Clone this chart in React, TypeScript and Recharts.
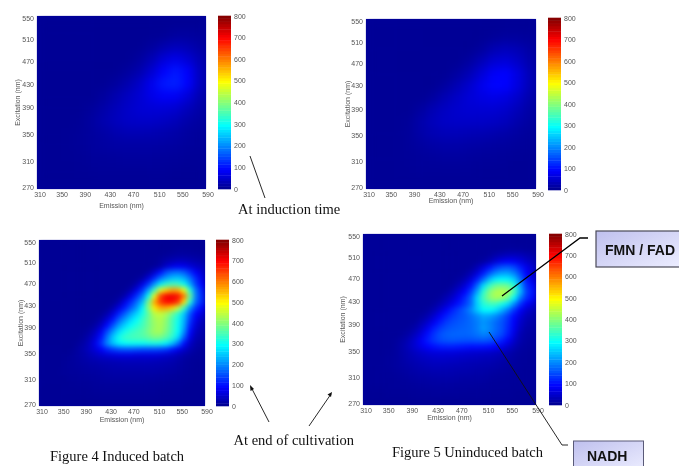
import { CartesianGrid, Scatter, ScatterChart, XAxis, YAxis } from 'recharts';

const emissionTicks = [310, 350, 390, 430, 470, 510, 550, 590];
const excitationTicks = [270, 310, 350, 390, 430, 470, 510, 550];
const intensityTicks = [0, 100, 200, 300, 400, 500, 600, 700, 800];
// labels in the figure sit a little off their true positions
const excitationNudge = [-2, -3, -5, -7, -6, -4, -1, 2];
const emissionNudge = [3, 1, 0, 1, 0, 2, 1, 2];

const em20 = [320, 340, 360, 380, 400, 420, 440, 460, 480, 500, 520, 540, 560, 580];
const ex20 = [540, 520, 500, 480, 460, 440, 420, 400, 380, 360, 340, 320, 300, 280];
const em10 = [315, 325, 335, 345, 355, 365, 375, 385, 395, 405, 415, 425, 435, 445, 455, 465, 475, 485, 495, 505, 515, 525, 535, 545, 555, 565, 575, 585];
const ex10 = [545, 535, 525, 515, 505, 495, 485, 475, 465, 455, 445, 435, 425, 415, 405, 395, 385, 375, 365, 355, 345, 335, 325, 315, 305, 295, 285, 275];

const scaleLevels = [6, 19, 31, 44, 56, 69, 81, 94, 106, 119, 131, 144, 156, 169, 181, 194, 206, 219, 231, 244, 256, 269, 281, 294, 306, 319, 331, 344, 356, 369, 381, 394, 406, 419, 431, 444, 456, 469, 481, 494, 506, 519, 531, 544, 556, 569, 581, 594, 606, 619, 631, 644, 656, 669, 681, 694, 706, 719, 731, 744, 756, 769, 781, 794];

const inducedStart = [
  [5, 5, 5, 5, 5, 5, 5, 5, 5, 5, 5, 5, 5, 5],
  [5, 5, 5, 5, 5, 5, 5, 5, 5, 5, 6, 12, 12, 10],
  [5, 5, 5, 5, 5, 5, 5, 5, 5, 12, 25, 35, 30, 18],
  [5, 5, 5, 5, 5, 5, 5, 5, 12, 30, 58, 72, 55, 30],
  [5, 5, 5, 5, 5, 5, 5, 12, 25, 52, 88, 108, 88, 38],
  [5, 5, 5, 5, 5, 5, 12, 25, 45, 75, 108, 115, 90, 38],
  [5, 5, 5, 5, 5, 12, 25, 40, 54, 72, 84, 82, 60, 28],
  [5, 5, 5, 5, 10, 20, 34, 46, 55, 58, 58, 52, 36, 20],
  [5, 5, 5, 7, 14, 25, 36, 44, 46, 46, 42, 34, 22, 14],
  [5, 5, 6, 8, 12, 18, 25, 30, 30, 28, 25, 20, 14, 10],
  [5, 5, 6, 8, 12, 15, 18, 18, 18, 18, 16, 14, 11, 8],
  [5, 5, 6, 7, 9, 10, 11, 12, 12, 12, 11, 10, 8, 7],
  [5, 5, 5, 6, 7, 8, 8, 8, 8, 8, 8, 7, 6, 6],
  [5, 5, 5, 5, 5, 6, 6, 6, 6, 6, 6, 5, 5, 5],
];

const uninducedStart = [
  [6, 6, 6, 6, 6, 6, 6, 6, 6, 6, 6, 6, 6, 6],
  [6, 6, 6, 6, 6, 6, 6, 6, 6, 5, 8, 12, 12, 10],
  [6, 6, 6, 6, 6, 6, 6, 6, 5, 12, 28, 36, 30, 18],
  [6, 6, 6, 6, 6, 6, 6, 5, 14, 32, 54, 60, 46, 24],
  [6, 6, 6, 6, 6, 6, 5, 14, 30, 56, 84, 90, 66, 32],
  [6, 6, 6, 6, 6, 5, 14, 30, 50, 74, 92, 90, 66, 32],
  [6, 6, 6, 6, 5, 14, 30, 44, 58, 66, 70, 64, 48, 24],
  [6, 6, 6, 5, 14, 30, 42, 50, 54, 54, 54, 48, 34, 18],
  [6, 6, 6, 8, 22, 36, 44, 46, 46, 44, 42, 36, 24, 14],
  [6, 6, 7, 10, 20, 28, 32, 32, 30, 28, 25, 20, 14, 10],
  [6, 6, 7, 10, 14, 18, 20, 20, 18, 16, 15, 12, 10, 8],
  [6, 6, 7, 8, 10, 11, 12, 12, 11, 10, 10, 8, 7, 6],
  [6, 6, 6, 7, 8, 8, 8, 8, 8, 7, 7, 6, 6, 6],
  [6, 6, 6, 6, 6, 6, 6, 6, 6, 6, 6, 6, 6, 6],
];

const inducedEnd = [
  [5, 5, 5, 5, 5, 5, 5, 5, 5, 5, 5, 5, 5, 5, 5, 5, 5, 5, 5, 5, 5, 5, 5, 5, 5, 5, 5, 5],
  [5, 5, 5, 5, 5, 5, 5, 5, 5, 5, 5, 5, 5, 5, 5, 5, 5, 5, 5, 5, 5, 5, 6, 8, 8, 8, 7, 6],
  [5, 5, 5, 5, 5, 5, 5, 5, 5, 5, 5, 5, 5, 5, 5, 5, 5, 5, 5, 5, 6, 8, 12, 15, 15, 14, 12, 10],
  [5, 5, 5, 5, 5, 5, 5, 5, 5, 5, 5, 5, 5, 5, 5, 5, 5, 5, 5, 7, 12, 22, 30, 35, 35, 30, 25, 20],
  [5, 5, 5, 5, 5, 5, 5, 5, 5, 5, 5, 5, 5, 5, 5, 5, 5, 5, 5, 10, 20, 50, 70, 80, 75, 60, 45, 35],
  [5, 5, 5, 5, 5, 5, 5, 5, 5, 5, 5, 5, 5, 5, 5, 5, 5, 6, 15, 50, 100, 150, 175, 180, 165, 125, 85, 55],
  [5, 5, 5, 5, 5, 5, 5, 5, 5, 5, 5, 5, 5, 5, 5, 5, 8, 20, 60, 120, 180, 220, 245, 250, 230, 180, 120, 70],
  [5, 5, 5, 5, 5, 5, 5, 5, 5, 5, 5, 5, 5, 5, 5, 8, 25, 70, 130, 210, 280, 330, 345, 340, 300, 225, 140, 90],
  [5, 5, 5, 5, 5, 5, 5, 5, 5, 5, 5, 5, 5, 5, 8, 25, 70, 130, 220, 340, 470, 530, 570, 560, 480, 320, 180, 110],
  [5, 5, 5, 5, 5, 5, 5, 5, 5, 5, 5, 5, 5, 8, 25, 70, 125, 190, 300, 480, 640, 700, 710, 690, 600, 380, 190, 120],
  [5, 5, 5, 5, 5, 5, 5, 5, 5, 5, 5, 5, 8, 25, 70, 120, 175, 240, 390, 560, 650, 690, 690, 650, 520, 320, 175, 120],
  [5, 5, 5, 5, 5, 5, 5, 5, 5, 5, 5, 8, 25, 65, 110, 160, 210, 285, 400, 510, 560, 560, 530, 450, 340, 210, 130, 90],
  [5, 5, 5, 5, 5, 5, 5, 5, 5, 5, 8, 25, 60, 115, 165, 215, 260, 310, 370, 440, 450, 430, 380, 325, 250, 155, 90, 60],
  [5, 5, 5, 5, 5, 5, 5, 5, 5, 8, 22, 55, 105, 165, 215, 260, 295, 335, 380, 420, 435, 405, 350, 305, 235, 135, 70, 40],
  [5, 5, 5, 5, 5, 5, 5, 5, 8, 18, 45, 95, 155, 215, 260, 295, 320, 345, 380, 415, 430, 400, 350, 300, 225, 115, 55, 30],
  [5, 5, 5, 5, 5, 5, 5, 8, 16, 38, 78, 145, 210, 265, 305, 330, 345, 360, 390, 420, 425, 390, 345, 295, 205, 95, 40, 25],
  [5, 5, 5, 5, 5, 5, 5, 12, 28, 55, 105, 180, 250, 305, 335, 345, 350, 355, 370, 390, 385, 360, 325, 265, 160, 70, 30, 20],
  [5, 5, 5, 5, 5, 5, 10, 20, 38, 72, 125, 195, 245, 280, 295, 300, 300, 300, 305, 310, 305, 285, 245, 180, 100, 45, 22, 15],
  [6, 6, 6, 6, 6, 6, 15, 25, 40, 60, 85, 115, 135, 150, 155, 155, 150, 145, 145, 145, 140, 130, 105, 75, 50, 28, 15, 10],
  [6, 6, 6, 6, 6, 10, 15, 22, 30, 40, 48, 55, 60, 65, 65, 65, 60, 60, 60, 60, 55, 50, 42, 32, 22, 15, 10, 8],
  [6, 6, 6, 6, 8, 10, 14, 18, 22, 25, 28, 30, 32, 34, 35, 35, 35, 35, 35, 34, 32, 30, 26, 20, 15, 10, 8, 7],
  [6, 6, 6, 7, 8, 10, 12, 14, 16, 18, 20, 22, 24, 25, 26, 26, 26, 26, 26, 25, 24, 22, 20, 16, 12, 9, 7, 6],
  [6, 6, 6, 7, 8, 9, 10, 12, 13, 15, 16, 18, 20, 20, 20, 20, 20, 20, 20, 20, 18, 16, 15, 12, 10, 8, 7, 6],
  [6, 6, 6, 6, 7, 8, 9, 10, 11, 12, 13, 14, 15, 15, 15, 15, 15, 15, 15, 14, 13, 12, 11, 10, 8, 7, 6, 6],
  [6, 6, 6, 6, 6, 7, 8, 8, 9, 10, 10, 11, 11, 11, 11, 11, 11, 11, 10, 10, 10, 9, 8, 8, 7, 6, 6, 6],
  [5, 5, 5, 5, 6, 6, 6, 7, 7, 8, 8, 8, 8, 8, 8, 8, 8, 8, 8, 8, 7, 7, 6, 6, 6, 5, 5, 5],
  [5, 5, 5, 5, 5, 5, 5, 6, 6, 6, 6, 6, 6, 6, 6, 6, 6, 6, 6, 6, 6, 6, 5, 5, 5, 5, 5, 5],
  [4, 4, 4, 4, 4, 4, 4, 4, 4, 4, 4, 4, 4, 4, 4, 4, 4, 4, 4, 4, 4, 4, 4, 4, 4, 4, 4, 4],
];

const uninducedEnd = [
  [8, 8, 8, 8, 8, 8, 8, 8, 8, 8, 8, 8, 8, 8, 8, 8, 8, 8, 8, 8, 8, 8, 8, 8, 8, 8, 8, 8],
  [8, 8, 8, 8, 8, 8, 8, 8, 8, 8, 8, 8, 8, 8, 8, 8, 8, 8, 8, 8, 8, 8, 8, 8, 8, 8, 8, 8],
  [8, 8, 8, 8, 8, 8, 8, 8, 8, 8, 8, 8, 8, 8, 8, 8, 8, 8, 8, 8, 8, 8, 10, 12, 12, 12, 10, 10],
  [8, 8, 8, 8, 8, 8, 8, 8, 8, 8, 8, 8, 8, 8, 8, 8, 8, 8, 8, 8, 12, 22, 30, 36, 38, 35, 28, 22],
  [8, 8, 8, 8, 8, 8, 8, 8, 8, 8, 8, 8, 8, 8, 8, 8, 8, 8, 10, 15, 30, 55, 75, 85, 80, 65, 48, 35],
  [8, 8, 8, 8, 8, 8, 8, 8, 8, 8, 8, 8, 8, 8, 8, 8, 8, 12, 30, 60, 100, 135, 155, 160, 145, 110, 75, 50],
  [8, 8, 8, 8, 8, 8, 8, 8, 8, 8, 8, 8, 8, 8, 8, 8, 12, 30, 60, 110, 160, 200, 220, 220, 195, 145, 90, 55],
  [8, 8, 8, 8, 8, 8, 8, 8, 8, 8, 8, 8, 8, 8, 8, 14, 30, 60, 110, 175, 240, 280, 290, 285, 255, 180, 105, 65],
  [8, 8, 8, 8, 8, 8, 8, 8, 8, 8, 8, 8, 8, 8, 14, 30, 58, 100, 170, 265, 335, 375, 385, 375, 325, 220, 125, 95],
  [8, 8, 8, 8, 8, 8, 8, 8, 8, 8, 8, 8, 8, 14, 30, 55, 90, 140, 220, 325, 395, 430, 440, 420, 355, 240, 140, 105],
  [8, 8, 8, 8, 8, 8, 8, 8, 8, 8, 8, 8, 14, 30, 50, 80, 120, 170, 260, 345, 400, 425, 415, 375, 290, 190, 125, 95],
  [8, 8, 8, 8, 8, 8, 8, 8, 8, 8, 8, 14, 28, 48, 75, 105, 135, 175, 255, 320, 340, 340, 310, 270, 200, 130, 85, 60],
  [8, 8, 8, 8, 8, 8, 8, 8, 8, 8, 14, 28, 52, 84, 115, 140, 165, 200, 250, 290, 295, 275, 235, 185, 130, 85, 52, 35],
  [8, 8, 8, 8, 8, 8, 8, 8, 8, 14, 28, 52, 84, 112, 135, 150, 160, 178, 200, 225, 220, 200, 170, 135, 95, 60, 35, 25],
  [8, 8, 8, 8, 8, 8, 8, 8, 12, 28, 50, 80, 110, 135, 150, 158, 165, 175, 190, 210, 195, 175, 155, 125, 85, 48, 28, 20],
  [8, 8, 8, 8, 8, 8, 8, 12, 24, 46, 75, 110, 135, 152, 160, 165, 168, 175, 190, 215, 200, 175, 155, 120, 78, 40, 22, 16],
  [8, 8, 8, 8, 8, 8, 12, 22, 40, 65, 100, 130, 152, 165, 170, 170, 170, 172, 182, 195, 185, 165, 145, 110, 65, 30, 18, 14],
  [8, 8, 8, 8, 8, 12, 20, 34, 55, 82, 110, 132, 148, 155, 158, 155, 152, 152, 155, 158, 152, 135, 112, 82, 48, 25, 15, 12],
  [8, 8, 8, 8, 8, 14, 24, 38, 55, 72, 88, 100, 108, 112, 112, 108, 104, 100, 100, 100, 95, 85, 70, 50, 32, 18, 12, 10],
  [8, 8, 8, 8, 10, 14, 22, 30, 40, 48, 55, 60, 62, 62, 62, 58, 55, 52, 50, 48, 45, 40, 34, 26, 18, 13, 10, 9],
  [8, 8, 8, 9, 11, 14, 20, 27, 32, 38, 42, 45, 46, 46, 45, 42, 40, 38, 36, 34, 32, 28, 24, 18, 14, 11, 9, 8],
  [8, 8, 8, 9, 11, 14, 18, 22, 26, 30, 33, 35, 35, 35, 34, 32, 30, 28, 27, 26, 24, 21, 18, 15, 12, 10, 9, 8],
  [8, 8, 8, 9, 10, 12, 15, 18, 21, 24, 26, 28, 28, 28, 27, 26, 25, 24, 22, 20, 18, 16, 14, 12, 10, 9, 8, 8],
  [8, 8, 8, 8, 9, 10, 12, 14, 16, 18, 20, 21, 22, 22, 22, 20, 19, 18, 17, 16, 14, 12, 11, 10, 9, 8, 8, 8],
  [8, 8, 8, 8, 8, 9, 10, 11, 12, 14, 15, 16, 16, 16, 16, 15, 14, 14, 13, 12, 11, 10, 9, 9, 8, 8, 8, 8],
  [7, 7, 7, 7, 8, 8, 8, 9, 10, 10, 11, 11, 12, 12, 12, 11, 11, 10, 10, 9, 9, 8, 8, 8, 7, 7, 7, 7],
  [6, 6, 6, 6, 7, 7, 7, 7, 8, 8, 8, 9, 9, 9, 9, 9, 8, 8, 8, 8, 7, 7, 7, 7, 6, 6, 6, 6],
  [5, 5, 5, 5, 5, 5, 5, 5, 5, 5, 5, 5, 5, 5, 5, 5, 5, 5, 5, 5, 5, 5, 5, 5, 5, 5, 5, 5],
];

// matlab jet over the 0-800 colorbar
function jet(value: number) {
  const t = (value + 12) / 812;
  const ch = (c: number) => Math.round(255 * Math.max(0, Math.min(1, 1.5 - Math.abs(4 * t - c))));
  return `rgb(${ch(3)},${ch(2)},${ch(1)})`;
}

function toCells(rows: number[][], ems: number[], exs: number[]) {
  return rows.flatMap((row, r) => row.map((v, c) => ({ em: ems[c], ex: exs[r], v })));
}

const panels = [
  { id: 'a', rows: inducedStart, ems: em20, exs: ex20, x: 37, y: 16, w: 169, h: 173, blur: 'soft', barX: 218, barY: 16, barH: 173, emGap: 16, exGap: 19 },
  { id: 'b', rows: uninducedStart, ems: em20, exs: ex20, x: 366, y: 19, w: 170, h: 170, blur: 'soft', barX: 548, barY: 18, barH: 172, emGap: 11, exGap: 18 },
  { id: 'c', rows: inducedEnd, ems: em10, exs: ex10, x: 39, y: 240, w: 166, h: 166, blur: 'fine', barX: 216, barY: 240, barH: 166, emGap: 13, exGap: 18 },
  { id: 'd', rows: uninducedEnd, ems: em10, exs: ex10, x: 363, y: 234, w: 173, h: 171, blur: 'fine', barX: 549, barY: 234, barH: 171, emGap: 12, exGap: 20 },
];

const tickFont = { fontFamily: 'Liberation Sans', fontSize: 7, fill: '#555' };
const BAR_W = 13;

function HeatPanel({ panel }: { panel: (typeof panels)[number] }) {
  const cellW = panel.w / panel.ems.length + 0.5;
  const cellH = panel.h / panel.exs.length + 0.5;
  const cells = toCells(panel.rows, panel.ems, panel.exs);
  const YTick = (p: any) => (
    <text x={p.x + 5} y={p.y + excitationNudge[p.index] + 2.5} textAnchor="end" {...tickFont}>
      {p.payload.value}
    </text>
  );
  const XTick = (p: any) => (
    <text x={p.x + emissionNudge[p.index]} y={p.y} textAnchor="middle" {...tickFont}>
      {p.payload.value}
    </text>
  );
  return (
    <div style={{ position: 'absolute', left: panel.x - 36, top: panel.y - 8, filter: 'blur(0.6px)' }}>
      <ScatterChart
        width={panel.w + 48}
        height={panel.h + 42}
        margin={{ top: 8, right: 12, bottom: 0, left: 0 }}
      >
        <CartesianGrid horizontal={false} vertical={false} fill="#00009a" stroke="none" />
        <XAxis
          type="number"
          dataKey="em"
          domain={[310, 590]}
          ticks={emissionTicks}
          interval={0}
          height={34}
          tickLine={false}
          axisLine={false}
          tick={XTick}
          label={{ value: 'Emission (nm)', position: 'insideBottom', offset: 31 - panel.emGap, ...tickFont }}
        />
        <YAxis
          type="number"
          dataKey="ex"
          domain={[270, 550]}
          ticks={excitationTicks}
          interval={0}
          width={36}
          tickLine={false}
          axisLine={false}
          tick={YTick}
          label={{
            value: 'Excitation (nm)',
            angle: -90,
            position: 'insideLeft',
            offset: 36 - panel.exGap,
            style: { textAnchor: 'middle' },
            ...tickFont,
          }}
        />
        <Scatter
          data={cells}
          isAnimationActive={false}
          className={`heat-cells ${panel.blur}`}
          shape={(p: any) => (
            <rect x={p.cx - cellW / 2} y={p.cy - cellH / 2} width={cellW} height={cellH} fill={jet(p.payload.v)} />
          )}
        />
      </ScatterChart>
    </div>
  );
}

function ColorBar({ panel }: { panel: (typeof panels)[number] }) {
  const levels = scaleLevels.map((v) => ({ pos: 0.5, v }));
  const cellH = panel.barH / scaleLevels.length + 0.5;
  const BarTick = (p: any) => (
    <text x={p.x + 1} y={p.y + 2.5} {...tickFont}>
      {p.payload.value}
    </text>
  );
  return (
    <div style={{ position: 'absolute', left: panel.barX, top: panel.barY - 8, filter: 'blur(0.6px)' }}>
      <ScatterChart width={BAR_W + 22} height={panel.barH + 16} margin={{ top: 8, right: 0, bottom: 8, left: 0 }}>
        <XAxis type="number" dataKey="pos" domain={[0, 1]} hide />
        <YAxis
          type="number"
          dataKey="v"
          orientation="right"
          domain={[0, 800]}
          ticks={intensityTicks}
          interval={0}
          width={22}
          tickSize={0}
          tickLine={false}
          axisLine={false}
          tick={BarTick}
        />
        <Scatter
          data={levels}
          isAnimationActive={false}
          shape={(p: any) => (
            <rect x={p.cx - BAR_W / 2} y={p.cy - cellH / 2} width={BAR_W} height={cellH} fill={jet(p.payload.v)} />
          )}
        />
      </ScatterChart>
    </div>
  );
}

const serif = { fontFamily: 'Liberation Serif', fontSize: 14.5, fill: '#111' };
const boxText = { fontFamily: 'Liberation Sans', fontSize: 14, fontWeight: 700, fill: '#111' };

function Annotations() {
  return (
    <svg width={679} height={466} style={{ position: 'absolute', left: 0, top: 0, filter: 'blur(0.3px)' }}>
      <defs>
        <linearGradient id="boxFill" x1="0" y1="0" x2="1" y2="1">
          <stop offset="0" stopColor="#bfc0ee" />
          <stop offset="1" stopColor="#ecedff" />
        </linearGradient>
      </defs>
      <line x1={250} y1={156} x2={265} y2={198} stroke="#111" strokeWidth={0.9} />
      <line x1={251} y1={387} x2={269} y2={422} stroke="#111" strokeWidth={0.9} />
      <polygon points="250,385 254,389 250.5,391" fill="#111" />
      <line x1={331} y1={394} x2={309} y2={426} stroke="#111" strokeWidth={0.9} />
      <polygon points="332,392 331,397 327.5,394.5" fill="#111" />
      <polyline points="502,296 580,238 588,238" fill="none" stroke="#000" strokeWidth={1.3} />
      <polyline points="489,332 562,445 568,445" fill="none" stroke="#111" strokeWidth={0.9} />
      <rect x={596} y={231} width={84} height={36} fill="url(#boxFill)" stroke="#4a4a58" strokeWidth={1.2} />
      <rect x={573.5} y={441} width={70} height={30} fill="url(#boxFill)" stroke="#5a5a78" strokeWidth={1} />
      <text x={605} y={255} {...boxText}>FMN / FAD</text>
      <text x={587} y={461} {...boxText}>NADH</text>
      <text x={238} y={214} {...serif}>At induction time</text>
      <text x={233.5} y={445} {...serif}>At end of cultivation</text>
      <text x={50} y={461} {...serif}>Figure 4 Induced batch</text>
      <text x={392} y={457} {...serif}>Figure 5 Uninduced batch</text>
    </svg>
  );
}

export default function App() {
  return (
    <div style={{ position: 'absolute', left: 0, top: 0, width: 679, height: 466, background: '#fff', overflow: 'hidden' }}>
      <style>{`
        .heat-cells.soft { filter: blur(5px); clip-path: inset(0); }
        .heat-cells.fine { filter: blur(2.5px); clip-path: inset(0); }
      `}</style>
      {panels.map((p) => (
        <HeatPanel key={p.id} panel={p} />
      ))}
      {panels.map((p) => (
        <ColorBar key={p.id} panel={p} />
      ))}
      <Annotations />
    </div>
  );
}
